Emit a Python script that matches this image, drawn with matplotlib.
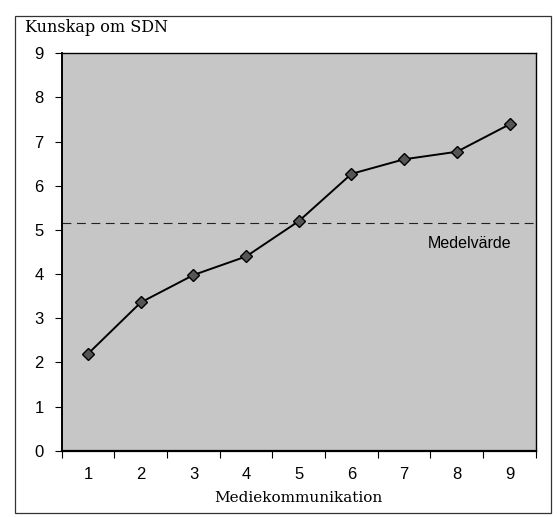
import numpy as np
import matplotlib.pyplot as plt
from matplotlib.patches import Rectangle

# Kunskap om SDN vs mediekommunikation
categories = [1, 2, 3, 4, 5, 6, 7, 8, 9]
kunskap = [2.2, 3.36, 3.98, 4.4, 5.2, 6.27, 6.6, 6.77, 7.39]
medelvarde = 5.15
yticks = [0, 1, 2, 3, 4, 5, 6, 7, 8, 9]

fig = plt.figure(figsize=(5.57, 5.17), dpi=100)
ax = fig.add_axes([0.111, 0.128, 0.851, 0.769])

# outer frame round the whole chart
fig.patches.append(Rectangle((0.027, 0.008), 0.962, 0.962, transform=fig.transFigure,
                             fill=False, edgecolor='#333333', linewidth=0.9))

ax.set_facecolor('#c6c6c6')
ax.plot(categories, kunskap, color='black', linewidth=1.4, marker='D',
        markersize=6, markerfacecolor='#555555', markeredgecolor='black', zorder=3)
ax.axhline(medelvarde, color='#222222', linewidth=0.8, linestyle=(0, (8, 5)), zorder=2)
ax.text(8.25, medelvarde - 0.45, 'Medelvärde', ha='center', va='center',
        family='Liberation Sans', fontsize=11.5)

ax.set_xlim(0.5, 9.5)
ax.set_ylim(0, 9)
ax.set_yticks(yticks)
ax.set_xticks(np.arange(0.5, 10, 1))
ax.set_xticklabels([])
ax.set_xticks(categories, minor=True)
ax.set_xticklabels([str(c) for c in categories], minor=True)
ax.tick_params(axis='x', which='minor', length=0, pad=12)
ax.tick_params(axis='x', which='major', length=5, width=0.8)
ax.tick_params(axis='y', length=5, width=0.8, pad=8)
for lab in ax.get_xticklabels(minor=True) + ax.get_yticklabels():
    lab.set_family('Liberation Sans')
    lab.set_fontsize(12)

for s in ax.spines.values():
    s.set_linewidth(1.0)
ax.spines['left'].set_linewidth(1.4)
ax.spines['bottom'].set_linewidth(1.6)

fig.text(0.045, 0.947, 'Kunskap om SDN', family='DejaVu Serif', fontsize=11.5,
         ha='left', va='center')
ax.set_xlabel('Mediekommunikation', family='DejaVu Serif', fontsize=11, labelpad=6)

fig.savefig('out.png', dpi=100)
